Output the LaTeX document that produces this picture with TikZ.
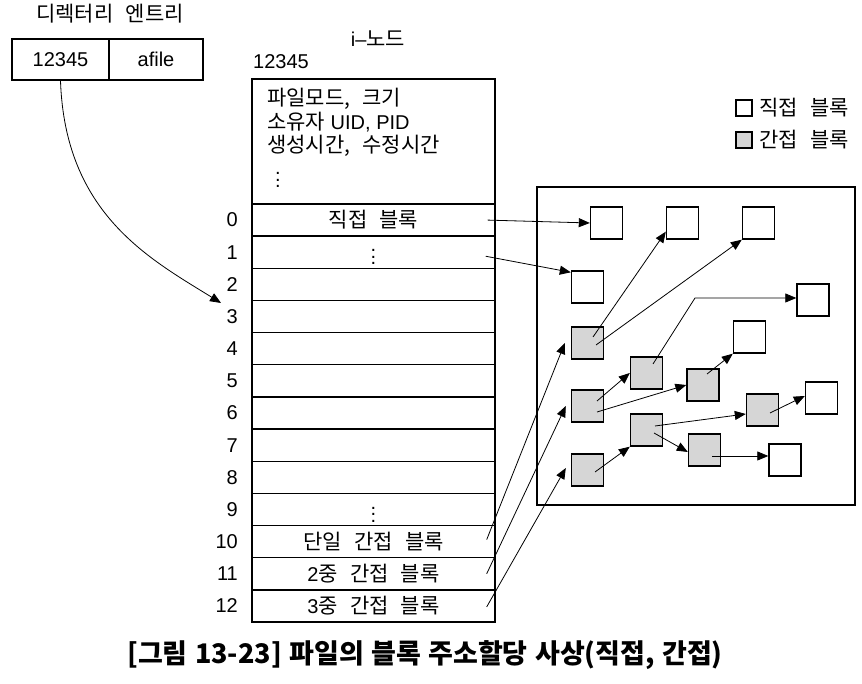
\documentclass[tikz,border=0pt]{standalone}
\usepackage{fontspec}
\setmainfont{Liberation Sans}
\newfontfamily\kr[Scale=1.05,WordSpace=2.6]{Noto Sans CJK KR}
\newfontfamily\capkr[WordSpace=1.2]{Noto Sans CJK KR}
\usetikzlibrary{arrows.meta}
\definecolor{blkgray}{RGB}{214,214,214}
\newcommand\coldots{\vbox{\baselineskip6.5pt\lineskiplimit0pt\hbox{.}\hbox{.}\hbox{.}}}
\newcommand\rowdots{\raisebox{-12.6pt}[0pt][0pt]{\coldots}}

\begin{document}
\begin{tikzpicture}[x=1pt,y=1pt,
  font=\fontsize{20}{23.5}\selectfont,
  cell/.style={draw,line width=1.4pt,minimum height=41pt,inner sep=0pt},
  row/.style={draw,line width=1.4pt,minimum width=243pt,minimum height=32.15pt,inner sep=0pt},
  dblk/.style={draw,line width=1.4pt,minimum size=32pt,inner sep=0pt},
  iblk/.style={dblk,fill=blkgray},
  ptr/.style={line width=0.8pt,-{Triangle[length=11pt,width=9pt]}}]

\useasboundingbox (0,0) rectangle (862,684);

% Directory entry
\node (dirlbl) at (110,670) {\kr 디렉터리 엔트리};
\node[cell,minimum width=97pt] (ino) at (60.5,624.5) {12345};
\node[cell,minimum width=94pt] (fname) at (156,624.5) {afile};

% i-node
\node (inolbl) at (378,645) {i–{\kr 노드}};
\node (inonum) at (281,622) {12345};
\node[row,minimum height=125pt] (head) at (373.5,542.5) {};
\node[anchor=north west,align=left,inner sep=0pt] (attr) at (267,596)
  {{\kr 파일모드, 크기}\\{\kr 소유자} UID, PID\\{\kr 생성시간, 수정시간}};
\node (hdots) at (278,504) {\coldots};
\foreach \i/\txt in {0/{\kr 직접 블록},1/\rowdots,2/,3/,4/,5/,6/,7/,8/,9/\rowdots,
                     10/{\kr 단일 간접 블록},11/2{\kr 중 간접 블록},12/3{\kr 중 간접 블록}}{
  \node[row] (r\i) at (373.5,463.9-32.15*\i) {\txt};
  \node[anchor=east] (n\i) at ([xshift=-10pt]r\i.west) {\i};
}

% Block area and legend
\node[draw,line width=1.4pt,minimum width=318pt,minimum height=318pt] (area) at (696,338) {};
\node[dblk,minimum size=16pt] (lgd) at (744,576) {};
\node[anchor=west] (lgdt) at ([xshift=3pt]lgd.east) {\kr 직접 블록};
\node[iblk,minimum size=16pt] (lgi) at (744,544) {};
\node[anchor=west] (lgit) at ([xshift=3pt]lgi.east) {\kr 간접 블록};

% Direct blocks
\foreach \n/\x/\y in {w1/606.5/461,w2/682.5/461,w3/758.5/461,w4/587.5/397,
                      w5/813/384,w6/749.5/347,w7/821.5/286,w8/785/224}
  \node[dblk] (\n) at (\x,\y) {};

% Indirect blocks
\foreach \n/\x/\y in {g1/587.5/341,g2/587.5/278,g3/587.5/214,g4/646.5/311,
                      g5/646.5/254,g6/703/299,g7/762.5/274,g8/704.5/234}
  \node[iblk] (\n) at (\x,\y) {};

% Pointers from the i-node
\coordinate (dirtip) at (221,381);
\draw[ptr] (ino.south) .. controls (65,470) and (150,425) .. (dirtip);
\draw[ptr] ([xshift=-8pt]r0.east) -- (w1.west);
\draw[ptr] ([xshift=-10pt,yshift=-4pt]r1.east) -- ([yshift=-2pt]w4.north west);
\draw[ptr] ([xshift=-9pt,yshift=2pt]r10.east) -- ([xshift=-6pt]g1.west);
\draw[ptr] ([xshift=-9pt]r11.east) -- ([xshift=-5pt]g2.west);
\draw[ptr] ([xshift=-9pt,yshift=-1pt]r12.east) -- ([xshift=-5pt,yshift=2pt]g3.west);

% Pointers between blocks
\coordinate (bend) at (695,386);
\draw[ptr] ([shift={(5.5,6)}]g1.center) -- ([yshift=8pt]w2.south west);
\draw[ptr] ([shift={(8.5,-2)}]g1.center) -- (w3.south west);
\draw[ptr] ([shift={(6.5,9)}]g4.center) -- (bend) -- (bend -| w5.west);
\draw[ptr] ([shift={(9.5,5)}]g2.center) -- (g4.west);
\draw[ptr] ([shift={(9.5,-6)}]g2.center) -- (g6.west);
\draw[ptr] ([shift={(4,11)}]g6.center) -- (w6.south west);
\draw[ptr] ([shift={(7.5,-2)}]g3.center) -- (g5.south west);
\draw[ptr] ([shift={(8.5,4)}]g5.center) -- ([yshift=-4pt]g7.west);
\draw[ptr] ([shift={(7.5,-3)}]g5.center) -- ([yshift=-2pt]g8.west);
\draw[ptr] ([shift={(7.5,-3)}]g7.center) -- ([yshift=2pt]w7.west);
\coordinate (g8out) at ([shift={(7.5,-6)}]g8.center);
\draw[ptr] (g8out) -- (g8out -| w8.west);

% Caption
\node[font=\capkr\bfseries\fontsize{27}{31}\selectfont] (cap) at (425,29)
  {[그림 13-23] 파일의 블록 주소할당 사상(직접, 간접)};

\end{tikzpicture}
\end{document}
